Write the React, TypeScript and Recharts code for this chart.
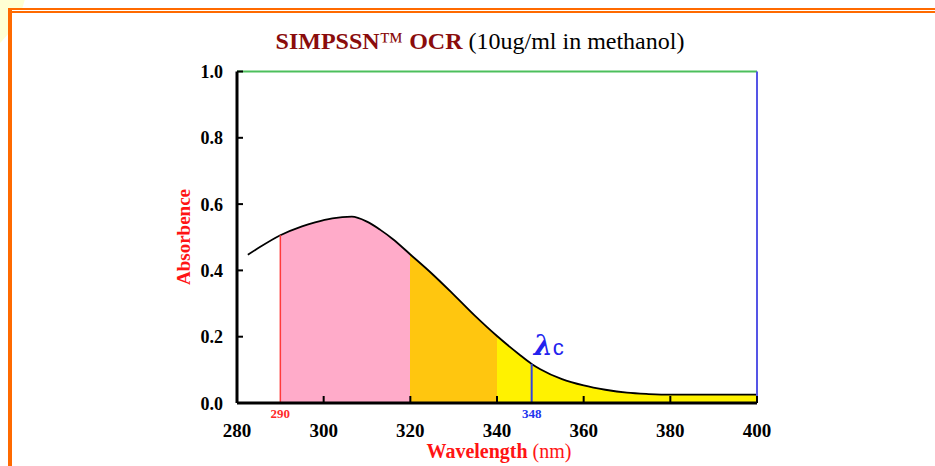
import React from 'react';
import { ComposedChart, Area, XAxis, YAxis, ReferenceLine } from 'recharts';

// ---- data ----
const wavelengths = [282.5, 285, 290, 295, 298, 302, 306.5, 310, 313, 316, 320, 325, 330, 335, 340, 345, 348, 350, 355, 360, 365, 370, 375, 380, 390, 400];
const absorbance = [0.447, 0.468, 0.506, 0.533, 0.545, 0.557, 0.562, 0.547, 0.523, 0.494, 0.448, 0.39, 0.327, 0.262, 0.202, 0.148, 0.118, 0.102, 0.072, 0.053, 0.04, 0.031, 0.027, 0.025, 0.025, 0.025];
const xTicks = [280, 300, 320, 340, 360, 380, 400];
const yTicks = [0, 0.2, 0.4, 0.6, 0.8, 1.0];
const regionBounds = [290, 320, 340, 400];
const markerCut = 290;
const markerLambda = 348;

// ---- styles ----
const regionColors = ['#FFABC9', '#FFC60F', '#FFF200'];
const SERIF = '"Liberation Serif", "Times New Roman", serif';

const rows = wavelengths.map((w, i) => ({ w, a: absorbance[i] }));
const wMin = wavelengths[0];
const wMax = wavelengths[wavelengths.length - 1];
const off = (w: number) => (w - wMin) / (wMax - wMin);
const valueAt = (w: number) => absorbance[wavelengths.indexOf(w)];

const XTick = (props: any) => {
  const { x, y, payload } = props;
  return (
    <g>
      <line x1={x} x2={x} y1={y} y2={y - 7} stroke="#000" strokeWidth={2} />
      <text x={x} y={y + 34} textAnchor="middle" fontFamily={SERIF} fontWeight="bold" fontSize={19} fill="#000">
        {payload.value}
      </text>
    </g>
  );
};

const YTick = (props: any) => {
  const { x, y, payload } = props;
  return (
    <g>
      <line x1={x} x2={x + 6} y1={y} y2={y} stroke="#000" strokeWidth={2} />
      <text x={x - 14} y={y + 6.5} textAnchor="end" fontFamily={SERIF} fontWeight="bold" fontSize={18} fill="#000">
        {Number(payload.value).toFixed(1)}
      </text>
    </g>
  );
};

const cutLabel = (p: any) => {
  const vb = p.viewBox;
  return (
    <text x={vb.x} y={vb.y + vb.height + 15} textAnchor="middle" fontFamily={SERIF} fontWeight="bold" fontSize={13} fill="#FF2A2A">
      {markerCut}
    </text>
  );
};

const lambdaLabel = (p: any) => {
  const vb = p.viewBox;
  return (
    <g>
      <text x={vb.x} y={vb.y + vb.height + 15} textAnchor="middle" fontFamily={SERIF} fontWeight="bold" fontSize={13} fill="#2233EE">
        {markerLambda}
      </text>
      <text x={vb.x + 2} y={vb.y - 9} fontFamily='"DejaVu Serif", serif' fontStyle="italic" fontWeight="bold" fontSize={27} fill="#2222EE">
        λ
      </text>
      <text x={vb.x + 21} y={vb.y - 9} fontFamily='"Liberation Sans", Arial, sans-serif' fontSize={22} fill="#2222EE">
        c
      </text>
    </g>
  );
};

export default function App() {
  return (
    <div style={{ position: 'absolute', left: 0, top: 0, width: 935, height: 466, overflow: 'hidden', background: '#fff' }}>
      <div style={{ position: 'absolute', left: -147, top: -107, width: 174, height: 174, borderRadius: '50%', background: '#FFFFD4' }} />
      <div style={{ position: 'absolute', left: 8, top: 8, right: 0, bottom: 0, background: '#fff' }} />
      <div style={{ position: 'absolute', left: 8, top: 8, width: 927, height: 2, background: '#FF6A00' }} />
      <div style={{ position: 'absolute', left: 8, top: 11, width: 927, height: 2, background: '#FF6A00' }} />
      <div style={{ position: 'absolute', left: 8, top: 8, width: 4, height: 458, background: '#FF6A00' }} />

      <div style={{ position: 'absolute', left: 0, top: 0 }}>
        <ComposedChart width={935} height={466} data={rows} margin={{ top: 71.5, right: 178, bottom: 0, left: 0 }}>
          <defs>
            <linearGradient id="bands" x1="0" y1="0" x2="1" y2="0">
              <stop offset={0} stopColor="#fff" stopOpacity={0} />
              <stop offset={off(regionBounds[0])} stopColor="#fff" stopOpacity={0} />
              <stop offset={off(regionBounds[0])} stopColor={regionColors[0]} />
              <stop offset={off(regionBounds[1])} stopColor={regionColors[0]} />
              <stop offset={off(regionBounds[1])} stopColor={regionColors[1]} />
              <stop offset={off(regionBounds[2])} stopColor={regionColors[1]} />
              <stop offset={off(regionBounds[2])} stopColor={regionColors[2]} />
              <stop offset={off(regionBounds[3])} stopColor={regionColors[2]} />
            </linearGradient>
          </defs>
          <XAxis
            dataKey="w"
            type="number"
            domain={[280, 400]}
            ticks={xTicks}
            interval={0}
            height={63}
            tickSize={0}
            tickMargin={0}
            tickLine={false}
            tick={<XTick />}
            axisLine={{ stroke: '#000', strokeWidth: 3 }}
          />
          <YAxis
            type="number"
            domain={[0, 1]}
            ticks={yTicks}
            interval={0}
            width={237}
            tickSize={0}
            tickMargin={0}
            tickLine={false}
            tick={<YTick />}
            axisLine={{ stroke: '#000', strokeWidth: 3 }}
          />
          <Area
            dataKey="a"
            type="monotone"
            stroke="#000"
            strokeWidth={1.8}
            fill="url(#bands)"
            fillOpacity={1}
            isAnimationActive={false}
            dot={false}
            activeDot={false}
          />
          <ReferenceLine y={1} stroke="#4CBF5C" strokeWidth={2} />
          <ReferenceLine x={400} stroke="#5555E6" strokeWidth={2} />
          <ReferenceLine
            segment={[{ x: markerCut, y: 0 }, { x: markerCut, y: valueAt(markerCut) }]}
            stroke="#FF3A3A"
            strokeWidth={1.5}
            label={cutLabel}
          />
          <ReferenceLine
            segment={[{ x: markerLambda, y: 0 }, { x: markerLambda, y: valueAt(markerLambda) }]}
            stroke="#3344DD"
            strokeWidth={2}
            label={lambdaLabel}
          />
        </ComposedChart>
      </div>

      <svg width={935} height={466} style={{ position: 'absolute', left: 0, top: 0, pointerEvents: 'none' }}>
        <text x={480} y={49} textAnchor="middle" fontFamily={SERIF} fontSize={24}>
          <tspan fontWeight="bold" fill="#8A0C0C">SIMPSSN</tspan>
          <tspan fill="#8A0C0C">™</tspan>
          <tspan fontWeight="bold" fill="#8A0C0C"> OCR</tspan>
          <tspan fill="#000"> (10ug/ml in methanol)</tspan>
        </text>
        <text x={499} y={458} textAnchor="middle" fontFamily={SERIF} fontSize={20} fill="#FF1414">
          <tspan fontWeight="bold">Wavelength</tspan>
          <tspan> (nm)</tspan>
        </text>
        <text transform="translate(190,237) rotate(-90)" textAnchor="middle" fontFamily={SERIF} fontWeight="bold" fontSize={19} fill="#FF1414">
          Absorbence
        </text>
      </svg>
    </div>
  );
}
